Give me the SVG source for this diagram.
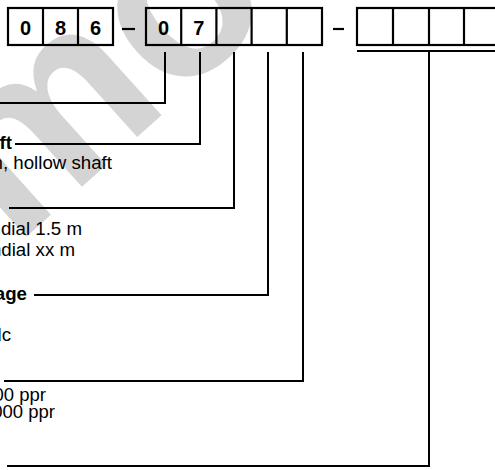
<svg xmlns="http://www.w3.org/2000/svg" width="495" height="470" viewBox="0 0 495 470">
<style>
.box{fill:none;stroke:#000;stroke-width:2.2}
.ln{fill:none;stroke:#000;stroke-width:2}
.dg{font-family:"Liberation Sans",Arial,sans-serif;font-weight:bold;font-size:20px;fill:#000;text-anchor:middle}
.t{font-family:"Liberation Sans",Arial,sans-serif;font-size:18.7px;fill:#000;text-anchor:end}
.s{font-size:18.5px}
.b{font-weight:bold}
.wm{font-family:"Liberation Sans",Arial,sans-serif;font-weight:bold;font-size:240px;fill:#d4d4d4}
</style>
<rect width="495" height="470" fill="#fff"/>
<g id="watermark">
<text class="wm" x="0" y="0" transform="translate(14,248) rotate(-42)">mo</text>
</g>
<g id="code-group-1">
<rect class="box" x="8" y="8" width="105" height="37"/>
<line class="box" x1="43" y1="8" x2="43" y2="45"/>
<line class="box" x1="78" y1="8" x2="78" y2="45"/>
<text class="dg" x="25.5" y="34.5">0</text>
<text class="dg" x="60.5" y="34.5">8</text>
<text class="dg" x="95.5" y="34.5">6</text>
</g>
<g id="dash-1"><line class="box" x1="122" y1="29" x2="135" y2="29"/></g>
<g id="code-group-2">
<rect class="box" x="146" y="8" width="176" height="37"/>
<line class="box" x1="181.2" y1="8" x2="181.2" y2="45"/>
<line class="box" x1="216.4" y1="8" x2="216.4" y2="45"/>
<line class="box" x1="251.6" y1="8" x2="251.6" y2="45"/>
<line class="box" x1="286.8" y1="8" x2="286.8" y2="45"/>
<text class="dg" x="163.6" y="34.5">0</text>
<text class="dg" x="198.8" y="34.5">7</text>
</g>
<g id="dash-2"><line class="box" x1="333" y1="29" x2="344" y2="29"/></g>
<g id="code-group-3">
<rect class="box" x="357" y="8" width="145" height="37"/>
<line class="box" x1="393" y1="8" x2="393" y2="45"/>
<line class="box" x1="429" y1="8" x2="429" y2="45"/>
<line class="box" x1="464" y1="8" x2="464" y2="45"/>
<line class="box" x1="357" y1="51" x2="495" y2="51"/>
</g>
<g id="connectors">
<polyline class="ln" points="165,52 165,103 0,103"/>
<polyline class="ln" points="200,52 200,144 15,144"/>
<polyline class="ln" points="234,52 234,208 9,208"/>
<polyline class="ln" points="268,52 268,295 34,295"/>
<polyline class="ln" points="303,52 303,381 4,381"/>
<polyline class="ln" points="429,52 429,466 7,466"/>
</g>
<g id="label-shaft">
<text class="t b" x="12" y="149">ft</text>
<text class="t" x="112" y="169">n, hollow shaft</text>
</g>
<g id="label-cable">
<text class="t" x="82" y="235">ndial 1.5 m</text>
<text class="t" x="75" y="256">ndial xx m</text>
</g>
<g id="label-voltage">
<text class="t b" x="27" y="300">age</text>
<text class="t" x="11" y="341">dc</text>
</g>
<g id="label-resolution">
<text class="t s" x="46" y="401">00 ppr</text>
<text class="t s" x="55" y="418">000 ppr</text>
</g>
</svg>
